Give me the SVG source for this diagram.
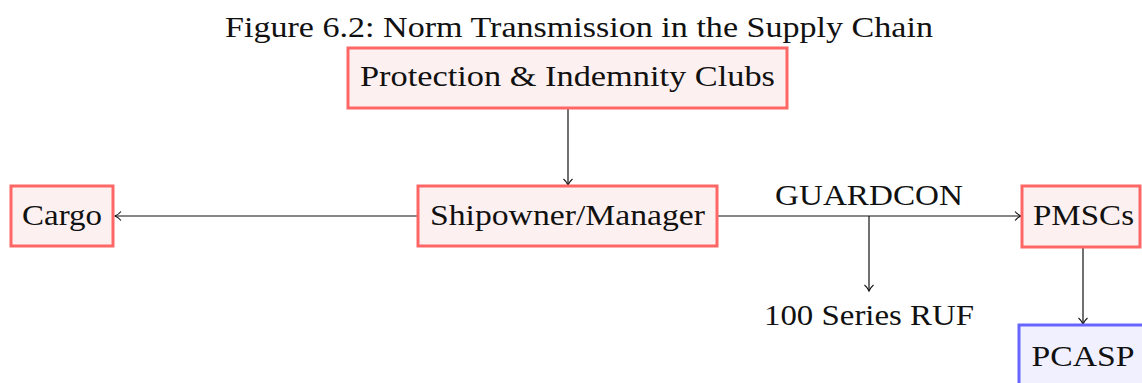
<svg xmlns="http://www.w3.org/2000/svg" width="1142" height="383" viewBox="0 0 1142 383">
<style>
text{font-family:"Liberation Serif","DejaVu Serif",serif;fill:#111;}
.lbl{font-size:29px;}
.red{fill:#fdf0f0;stroke:#ff6666;stroke-width:3;}
.blue{fill:#f0f0ff;stroke:#6666ff;stroke-width:3;}
.edge{stroke:#111;stroke-width:1.2;fill:none;marker-end:url(#arr);}
</style>
<defs>
<marker id="arr" markerWidth="12" markerHeight="12" refX="9" refY="6" orient="auto" markerUnits="userSpaceOnUse">
<path d="M3,1.5 Q5.5,4.5 9,6 Q5.5,7.5 3,10.5" fill="none" stroke="#111" stroke-width="1.1"/>
</marker>
</defs>
<rect width="1142" height="383" fill="#fff"/>
<text x="579" y="37" font-size="29" text-anchor="middle" textLength="708" lengthAdjust="spacingAndGlyphs">Figure 6.2: Norm Transmission in the Supply Chain</text>
<g id="connectors">
<line class="edge" x1="568" y1="109" x2="568" y2="185"/>
<line class="edge" x1="418" y1="216" x2="115" y2="216"/>
<line class="edge" x1="717" y1="216" x2="1021" y2="216"/>
<line class="edge" x1="869" y1="216" x2="869" y2="291"/>
<line class="edge" x1="1083" y1="248" x2="1083" y2="324"/>
<text x="869" y="205" class="lbl" text-anchor="middle" textLength="188" lengthAdjust="spacingAndGlyphs">GUARDCON</text>
</g>
<g id="pi">
<rect class="red" x="348" y="48" width="439" height="60"/>
<text x="567.5" y="86" class="lbl" text-anchor="middle" textLength="415" lengthAdjust="spacingAndGlyphs">Protection &amp; Indemnity Clubs</text>
</g>
<g id="shipowner">
<rect class="red" x="418" y="186" width="299" height="60"/>
<text x="567.5" y="225" class="lbl" text-anchor="middle" textLength="275" lengthAdjust="spacingAndGlyphs">Shipowner/Manager</text>
</g>
<g id="cargo">
<rect class="red" x="11" y="186" width="102" height="60"/>
<text x="62" y="225" class="lbl" text-anchor="middle" textLength="80" lengthAdjust="spacingAndGlyphs">Cargo</text>
</g>
<g id="pmscs">
<rect class="red" x="1022" y="186" width="118" height="61"/>
<text x="1083.5" y="225" class="lbl" text-anchor="middle" textLength="101" lengthAdjust="spacingAndGlyphs">PMSCs</text>
</g>
<g id="ruf">
<text x="869" y="325" class="lbl" text-anchor="middle" textLength="210" lengthAdjust="spacingAndGlyphs">100 Series RUF</text>
</g>
<g id="pcasp">
<rect class="blue" x="1019" y="325" width="130" height="70"/>
<text x="1083" y="366" class="lbl" text-anchor="middle" textLength="103" lengthAdjust="spacingAndGlyphs">PCASP</text>
</g>
</svg>
